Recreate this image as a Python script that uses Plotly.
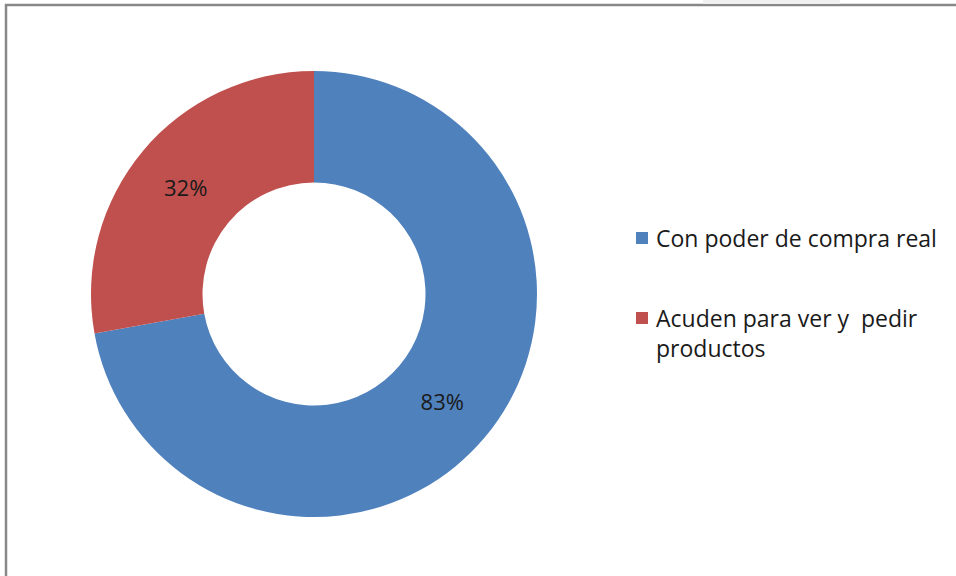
import plotly.graph_objects as go

categories = ["Con poder de compra real", "Acuden para ver y\u00a0 pedir productos"]
legend_lines = ["Con poder de compra real", "Acuden para ver y\u00a0 pedir<br>productos"]
values = [83, 32]
colors = ["#4F81BD", "#C0504D"]

W, H = 956, 576
FONT = "Open Sans"

fig = go.Figure(go.Pie(
    labels=categories,
    values=values,
    hole=0.5,
    sort=False,
    direction="clockwise",
    rotation=0,
    marker=dict(colors=colors, line=dict(width=0)),
    texttemplate="%{value}%",
    textposition="inside",
    insidetextorientation="horizontal",
    textfont=dict(family=FONT, size=22, color="#1a1a1a"),
    domain=dict(x=[91 / W, 537 / W], y=[(H - 517) / H, (H - 71) / H]),
    showlegend=False,
    hoverinfo="label+value",
))

shapes = [
    # frame lines (top and left)
    dict(type="line", xref="paper", yref="paper", x0=5 / W, x1=1, y0=1 - 5 / H, y1=1 - 5 / H,
         line=dict(color="#888888", width=2.5)),
    dict(type="line", xref="paper", yref="paper", x0=6 / W, x1=6 / W, y0=0, y1=1 - 4 / H,
         line=dict(color="#888888", width=2.5)),
    # light strip at top
    dict(type="rect", xref="paper", yref="paper", x0=703 / W, x1=840 / W, y0=1 - 4 / H, y1=1,
         fillcolor="#f0f0f0", line=dict(width=0)),
]
annotations = []
legend_y = [238, 318]
for i, (lab, col) in enumerate(zip(legend_lines, colors)):
    yc = legend_y[i]
    shapes.append(dict(type="rect", xref="paper", yref="paper",
                       x0=636 / W, x1=648 / W, y0=1 - (yc + 6) / H, y1=1 - (yc - 6) / H,
                       fillcolor=col, line=dict(width=0)))
    annotations.append(dict(xref="paper", yref="paper", x=654 / W, y=1 - (yc - 18) / H,
                            xanchor="left", yanchor="top", align="left", showarrow=False,
                            text=lab, font=dict(family=FONT, size=23, color="#1a1a1a")))

fig.update_layout(
    width=W, height=H,
    margin=dict(l=0, r=0, t=0, b=0),
    paper_bgcolor="white",
    plot_bgcolor="white",
    shapes=shapes,
    annotations=annotations,
)

fig.write_html("out.html", config={"displayModeBar": False},
               post_script="document.body.style.margin='0';document.body.style.padding='0';")
